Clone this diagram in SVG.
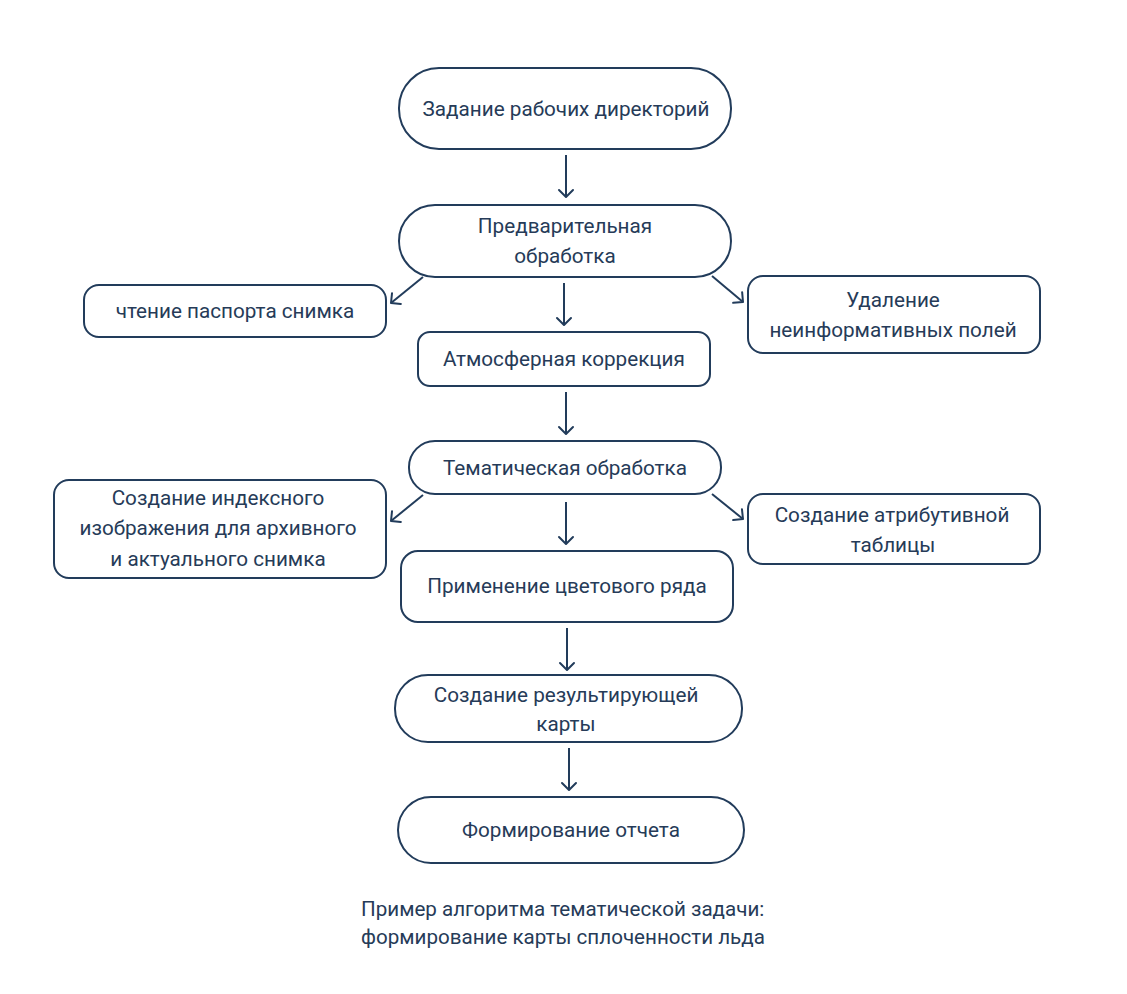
<svg xmlns="http://www.w3.org/2000/svg" width="1127" height="994" viewBox="0 0 1127 994">
  <style>
    .box { fill: #ffffff; stroke: #223c5b; stroke-width: 2; }
    .lbl { font-family: Roboto, "Noto Sans", "Liberation Sans", sans-serif; font-size: 20.7px; fill: #263b58; text-anchor: middle; }
    .cap { font-family: Roboto, "Noto Sans", "Liberation Sans", sans-serif; font-size: 20.6px; fill: #263b58; }
    .edge { fill: none; stroke: #223c5b; stroke-width: 2; marker-end: url(#chev); }
  </style>
  <defs>
    <marker id="chev" markerUnits="userSpaceOnUse" markerWidth="20" markerHeight="20" viewBox="-10 -10 20 20" refX="0" refY="0" orient="auto">
      <path d="M-7,-7 L0,0 L-7,7" fill="none" stroke="#223c5b" stroke-width="2" stroke-linecap="round" stroke-linejoin="round"/>
    </marker>
  </defs>
  <rect width="1127" height="994" fill="#ffffff"/>

  <g id="connectors">
    <line class="edge" x1="566" y1="155" x2="566" y2="197"/>
    <line class="edge" x1="423" y1="277" x2="391" y2="303"/>
    <line class="edge" x1="564" y1="283" x2="564" y2="325"/>
    <line class="edge" x1="712" y1="276" x2="743" y2="302"/>
    <line class="edge" x1="566" y1="392" x2="566" y2="434"/>
    <line class="edge" x1="423" y1="495" x2="391" y2="521"/>
    <line class="edge" x1="566" y1="502" x2="566" y2="544"/>
    <line class="edge" x1="712" y1="494" x2="743" y2="519"/>
    <line class="edge" x1="567" y1="628" x2="567" y2="670"/>
    <line class="edge" x1="569" y1="748" x2="569" y2="790"/>
  </g>

  <g id="node-dirs">
    <rect class="box" x="399" y="68" width="332" height="81" rx="40"/>
    <text class="lbl" x="566" y="116">Задание рабочих директорий</text>
  </g>
  <g id="node-preproc">
    <rect class="box" x="399" y="205" width="332" height="72" rx="36"/>
    <text class="lbl" x="565" y="233">Предварительная</text>
    <text class="lbl" x="565" y="263">обработка</text>
  </g>
  <g id="node-passport">
    <rect class="box" x="84" y="285" width="302" height="52" rx="15"/>
    <text class="lbl" x="235" y="318">чтение паспорта снимка</text>
  </g>
  <g id="node-atmos">
    <rect class="box" x="418" y="332" width="292" height="54" rx="12"/>
    <text class="lbl" x="564" y="366">Атмосферная коррекция</text>
  </g>
  <g id="node-remove">
    <rect class="box" x="748" y="276" width="292" height="77" rx="15"/>
    <text class="lbl" x="893" y="307">Удаление</text>
    <text class="lbl" x="893" y="337">неинформативных полей</text>
  </g>
  <g id="node-thematic">
    <rect class="box" x="409" y="441" width="312" height="53" rx="26"/>
    <text class="lbl" x="565" y="475">Тематическая обработка</text>
  </g>
  <g id="node-index">
    <rect class="box" x="54" y="480" width="332" height="98" rx="15"/>
    <text class="lbl" x="218" y="505">Создание индексного</text>
    <text class="lbl" x="218" y="535">изображения для архивного</text>
    <text class="lbl" x="218" y="566">и актуального снимка</text>
  </g>
  <g id="node-attr">
    <rect class="box" x="748" y="494" width="292" height="70" rx="15"/>
    <text class="lbl" x="892" y="522">Создание атрибутивной</text>
    <text class="lbl" x="893" y="552">таблицы</text>
  </g>
  <g id="node-color">
    <rect class="box" x="401" y="551" width="332" height="71" rx="17"/>
    <text class="lbl" x="567" y="593">Применение цветового ряда</text>
  </g>
  <g id="node-result">
    <rect class="box" x="395" y="675" width="347" height="67" rx="33"/>
    <text class="lbl" x="566" y="702">Создание результирующей</text>
    <text class="lbl" x="566" y="731">карты</text>
  </g>
  <g id="node-report">
    <rect class="box" x="398" y="797" width="346" height="66" rx="33"/>
    <text class="lbl" x="571" y="837">Формирование отчета</text>
  </g>

  <g id="caption">
    <text class="cap" x="361" y="916">Пример алгоритма тематической задачи:</text>
    <text class="cap" x="361" y="944">формирование карты сплоченности льда</text>
  </g>
</svg>
